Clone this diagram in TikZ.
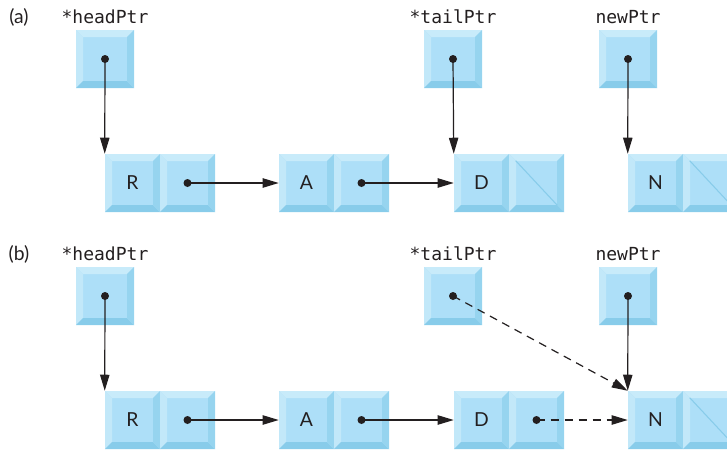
\documentclass[tikz,border=0pt]{standalone}
\usepackage{fontspec}
\setmainfont{Lato}
\setmonofont{DejaVu Sans Mono}
\usetikzlibrary{arrows.meta}
\definecolor{cellface}{HTML}{ADDFF8}
\definecolor{celltop}{HTML}{C8EBFA}
\definecolor{cellleft}{HTML}{C2E8F9}
\definecolor{cellright}{HTML}{96D4EF}
\definecolor{cellbottom}{HTML}{88CCEA}
\definecolor{ink}{HTML}{231F20}
\newcommand{\bevw}{5.25pt}
\tikzset{
    bevel/.style={path picture={
        \def\pbb{path picture bounding box}
        \fill[celltop] (\pbb.north west) -- (\pbb.north east) -- ++(-\bevw,-\bevw) -- ([shift={(\bevw,-\bevw)}]\pbb.north west) -- cycle;
        \fill[cellleft] (\pbb.north west) -- (\pbb.south west) -- ++(\bevw,\bevw) -- ([shift={(\bevw,-\bevw)}]\pbb.north west) -- cycle;
        \fill[cellbottom] (\pbb.south west) -- (\pbb.south east) -- ++(-\bevw,\bevw) -- ([shift={(\bevw,\bevw)}]\pbb.south west) -- cycle;
        \fill[cellright] (\pbb.north east) -- (\pbb.south east) -- ++(-\bevw,\bevw) -- ([shift={(-\bevw,-\bevw)}]\pbb.north east) -- cycle;
    }},
    cell/.style={bevel, fill=cellface, minimum width=41.25pt, minimum height=43.5pt, inner sep=0pt, text=ink, font=\fontsize{14.5pt}{17pt}\selectfont},
    ptrbox/.style={cell, minimum width=43.5pt},
    varname/.style={text=ink, font=\ttfamily\fontsize{13.5pt}{16pt}\selectfont},
    tag/.style={text=ink, font=\fontsize{14.5pt}{17pt}\selectfont},
    dot/.style={circle, fill=ink, inner sep=0pt, minimum size=6pt},
    ptr/.style={ink, line width=0.9pt, -{Triangle[length=12pt,width=7pt]}},
    nil/.style={cellbottom, line width=0.8pt},
}
\begin{document}
\begin{tikzpicture}[x=0.75pt,y=-0.75pt]
        \useasboundingbox (0,0) rectangle (727,450);
        \foreach \row/\y in {a/0,b/237}{
        % labels
            \node[tag] at (19,17+\y) {(\row)};
            \node[varname] at (105,17+\y) {*headPtr};
            \node[varname] at (453,17+\y) {*tailPtr};
            \node[varname] at (628,17+\y) {newPtr};
        % pointers
            \foreach \p/\x in {head/105,tail/453,new/628}{
                \node[ptrbox] (\row\p) at (\x,59+\y) {};
            }
        % list
            \foreach \n/\x in {R/132.5,A/306.5,D/481.5,N/655.5}{
                \node[cell] (\row\n) at (\x,183+\y) {\n};
                \node[cell] (\row\n p) at (\x+55,183+\y) {};
            }
        % links
            \draw[ptr] (\row head.center) -- (\row R.north west);
            \draw[ptr] (\row new.center) -- (\row N.north west);
            \draw[ptr] (\row Rp.center) -- (\row A.west);
            \draw[ptr] (\row Ap.center) -- (\row D.west);
            \foreach \d in {head,tail,new,Rp,Ap}{
                \node[dot] at (\row\d.center) {};
            }
            \draw[nil] ([shift={(\bevw,-\bevw)}]\row Np.north west) -- ([shift={(-\bevw,\bevw)}]\row Np.south east);
        }
        % (a) tail
            \draw[ptr] (atail.center) -- (aD.north west);
            \draw[nil] ([shift={(\bevw,-\bevw)}]aDp.north west) -- ([shift={(-\bevw,\bevw)}]aDp.south east);
        % (b) new node appended
            \draw[ptr, dash pattern=on 6pt off 4.5pt] (btail.center) -- (bN.north west);
            \draw[ptr, dash pattern=on 6pt off 4.5pt] (bDp.center) -- (bN.west);
            \node[dot] at (bDp.center) {};
\end{tikzpicture}
\end{document}
